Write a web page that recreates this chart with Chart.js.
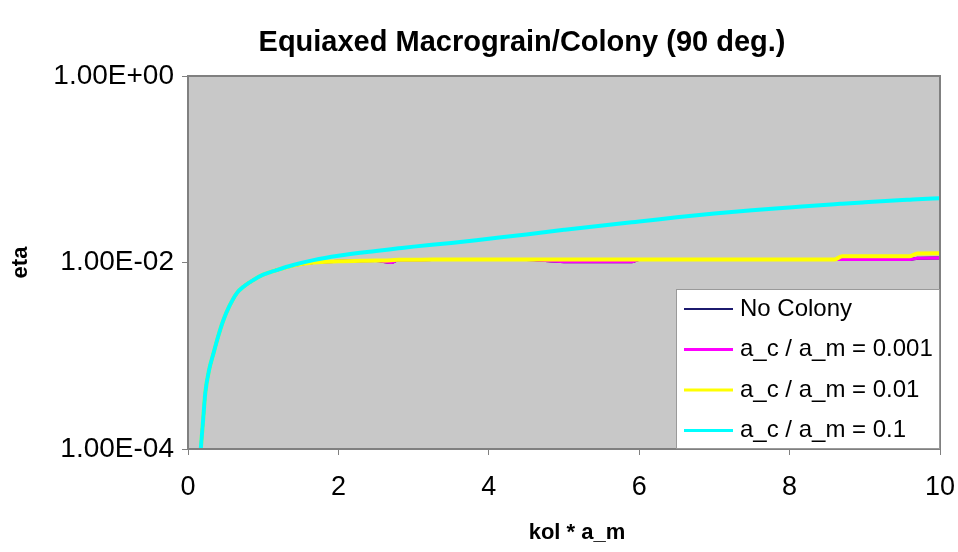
<!DOCTYPE html>
<html>
<head>
<meta charset="utf-8">
<script src="https://cdn.jsdelivr.net/npm/chart.js@4.4.0/dist/chart.umd.min.js"></script>
<style>
  html, body { margin: 0; padding: 0; background: #fff; }
  #wrap { width: 958px; height: 552px; }
</style>
</head>
<body>
<div id="wrap"><canvas id="chart" width="958" height="552"></canvas></div>
<script>
// x = kol * a_m
var kolAm = [0.17, 0.2, 0.23, 0.28, 0.34, 0.4, 0.47, 0.55, 0.65, 0.75, 0.87, 1.0, 1.18, 1.4, 1.67, 2.0,
  2.5, 2.7, 2.8, 3.0, 3.5, 4.0, 4.5, 5.0, 5.1, 5.9, 6.0, 6.5, 7.0, 7.5, 8.0, 8.6, 8.7, 9.0, 9.5, 9.6, 9.7, 10];

var etaNoColony = [1.0e-4, 2.0e-4, 4.0e-4, 7.0e-4, 1.07e-3, 1.6e-3, 2.4e-3, 3.4e-3, 4.7e-3, 5.6e-3, 6.5e-3, 7.4e-3, 8.3e-3, 9.3e-3, 0.0100, 0.0103,
  0.0105, 0.0100, 0.0107, 0.0107, 0.0108, 0.0108, 0.0108, 0.0102, 0.0102, 0.0102, 0.0108, 0.0108, 0.0108, 0.0108, 0.0108, 0.0108, 0.0108, 0.0108, 0.0108, 0.0108, 0.0111, 0.0112];
var etaC001 = [1.0e-4, 2.0e-4, 4.0e-4, 7.0e-4, 1.07e-3, 1.6e-3, 2.4e-3, 3.4e-3, 4.7e-3, 5.6e-3, 6.5e-3, 7.4e-3, 8.3e-3, 9.3e-3, 0.0100, 0.0103,
  0.0105, 0.0100, 0.0107, 0.0107, 0.0108, 0.0108, 0.0108, 0.0102, 0.0102, 0.0102, 0.0108, 0.0108, 0.0108, 0.0108, 0.0108, 0.0108, 0.0108, 0.0108, 0.0108, 0.0108, 0.0111, 0.0112];
var etaC01 = [1.0e-4, 2.0e-4, 4.0e-4, 7.0e-4, 1.07e-3, 1.6e-3, 2.4e-3, 3.4e-3, 4.7e-3, 5.6e-3, 6.5e-3, 7.4e-3, 8.3e-3, 9.3e-3, 0.0100, 0.0103,
  0.0105, 0.0106, 0.0107, 0.0107, 0.0108, 0.0108, 0.0108, 0.0108, 0.0108, 0.0108, 0.0108, 0.0108, 0.0108, 0.0108, 0.0108, 0.0108, 0.0117, 0.0117, 0.0117, 0.0117, 0.0125, 0.0126];
var etaC1 = [1.0e-4, 2.0e-4, 4.0e-4, 7.0e-4, 1.07e-3, 1.6e-3, 2.4e-3, 3.4e-3, 4.7e-3, 5.6e-3, 6.5e-3, 7.4e-3, 8.3e-3, 9.4e-3, 0.0106, 0.0118,
  0.0133, 0.0139, 0.0142, 0.0148, 0.0162, 0.0180, 0.0200, 0.0224, 0.0229, 0.0270, 0.0275, 0.0306, 0.0335, 0.0363, 0.0389, 0.0422, 0.0427, 0.0442, 0.0468, 0.0472, 0.0476, 0.0490];

var seriesNames = ['No Colony', 'a_c / a_m = 0.001', 'a_c / a_m = 0.01', 'a_c / a_m = 0.1'];
var seriesColors = ['#1c1a6e', '#ff00ff', '#ffff00', '#00ffff'];
var seriesWidths = [3, 3, 4, 4];

var yTickValues = [1e-4, 1e-2, 1];
var yTickLabels = ['1.00E-04', '1.00E-02', '1.00E+00'];
var xTickValues = [0, 2, 4, 6, 8, 10];

var chartTitle = 'Equiaxed Macrograin/Colony (90 deg.)';
var xTitle = 'kol * a_m';
var FONT = '"Liberation Sans", Arial, sans-serif';

function pts(ys) {
  return kolAm.map(function (x, i) { return { x: x, y: ys[i] }; });
}

var allSeries = [etaNoColony, etaC001, etaC01, etaC1];
var datasets = allSeries.map(function (ys, i) {
  return {
    label: seriesNames[i],
    data: pts(ys),
    borderColor: seriesColors[i],
    backgroundColor: seriesColors[i],
    borderWidth: seriesWidths[i],
    pointRadius: 0,
    fill: false,
    cubicInterpolationMode: 'monotone',
    order: allSeries.length - i
  };
});

// grey plot area with border, plus the titles (placed like the original, a bit off centre)
var plotBg = {
  id: 'plotBg',
  beforeDatasetsDraw: function (chart) {
    var a = chart.chartArea, ctx = chart.ctx;
    ctx.save();
    ctx.fillStyle = '#c8c8c8';
    ctx.fillRect(a.left, a.top, a.right - a.left, a.bottom - a.top);
    ctx.restore();
  },
  afterDatasetsDraw: function (chart) {
    var a = chart.chartArea, ctx = chart.ctx;
    ctx.save();
    ctx.strokeStyle = '#808080';
    ctx.lineWidth = 2;
    ctx.strokeRect(a.left, a.top, a.right - a.left, a.bottom - a.top);
    ctx.fillStyle = '#000';
    ctx.textAlign = 'center';
    ctx.textBaseline = 'middle';
    ctx.font = 'bold 29px ' + FONT;
    ctx.fillText(chartTitle, 522, 43);
    ctx.font = 'bold 22px ' + FONT;
    ctx.fillText(xTitle, (a.left + a.right) / 2 + 13, 533);
    ctx.restore();
  }
};

// legend box sitting in the lower right corner of the plot
var boxLegend = {
  id: 'boxLegend',
  afterDraw: function (chart) {
    var a = chart.chartArea, ctx = chart.ctx;
    var w = 264, h = 160;
    var left = a.right - w, top = a.bottom - h;
    ctx.save();
    ctx.fillStyle = '#ffffff';
    ctx.fillRect(left, top, w, h);
    ctx.strokeStyle = '#9a9a9a';
    ctx.lineWidth = 1;
    ctx.strokeRect(left + 0.5, top + 0.5, w - 1, h - 1);
    ctx.font = '24px ' + FONT;
    ctx.textBaseline = 'middle';
    ctx.fillStyle = '#000';
    chart.data.datasets.forEach(function (ds, i) {
      var y = top + 20 + i * 40.5;
      ctx.strokeStyle = ds.borderColor;
      ctx.lineWidth = i === 0 ? 2 : 3;
      ctx.beginPath();
      ctx.moveTo(left + 8, y);
      ctx.lineTo(left + 57, y);
      ctx.stroke();
      ctx.fillText(ds.label, left + 64, y);
    });
    ctx.restore();
  }
};

new Chart(document.getElementById('chart'), {
  type: 'line',
  data: { datasets: datasets },
  plugins: [plotBg, boxLegend],
  options: {
    responsive: false,
    animation: false,
    devicePixelRatio: 1,
    layout: { autoPadding: false, padding: { left: 0, right: 18, top: 76, bottom: 0 } },
    plugins: {
      legend: { display: false },
      tooltip: { enabled: false },
      title: { display: false }
    },
    scales: {
      x: {
        type: 'linear',
        min: 0,
        max: 10,
        afterBuildTicks: function (scale) {
          scale.ticks = xTickValues.map(function (v) { return { value: v }; });
        },
        afterFit: function (scale) {
          scale.height = 103;
          scale.paddingLeft = 0;
          scale.paddingRight = 0;
        },
        ticks: {
          color: '#000',
          font: { family: FONT, size: 27 },
          padding: 16,
          maxRotation: 0
        },
        grid: { drawOnChartArea: false, color: '#808080', tickLength: 6 },
        border: { display: true, color: '#808080', width: 2 },
        title: { display: false }
      },
      y: {
        type: 'logarithmic',
        min: 1e-4,
        max: 1,
        afterBuildTicks: function (scale) {
          scale.ticks = yTickValues.map(function (v) { return { value: v }; });
        },
        afterFit: function (scale) {
          scale.width = 188;
          scale.paddingTop = 0;
          scale.paddingBottom = 0;
        },
        ticks: {
          color: '#000',
          font: { family: FONT, size: 28 },
          padding: 8,
          callback: function (v) {
            var i = yTickValues.indexOf(v);
            return i >= 0 ? yTickLabels[i] : '';
          }
        },
        grid: { drawOnChartArea: false, color: '#808080', tickLength: 6 },
        border: { display: true, color: '#808080', width: 2 },
        title: {
          display: true,
          text: 'eta',
          color: '#000',
          font: { family: FONT, size: 22, weight: 'bold' },
          padding: { top: 8, bottom: 0 }
        }
      }
    }
  }
});
</script>
</body>
</html>
